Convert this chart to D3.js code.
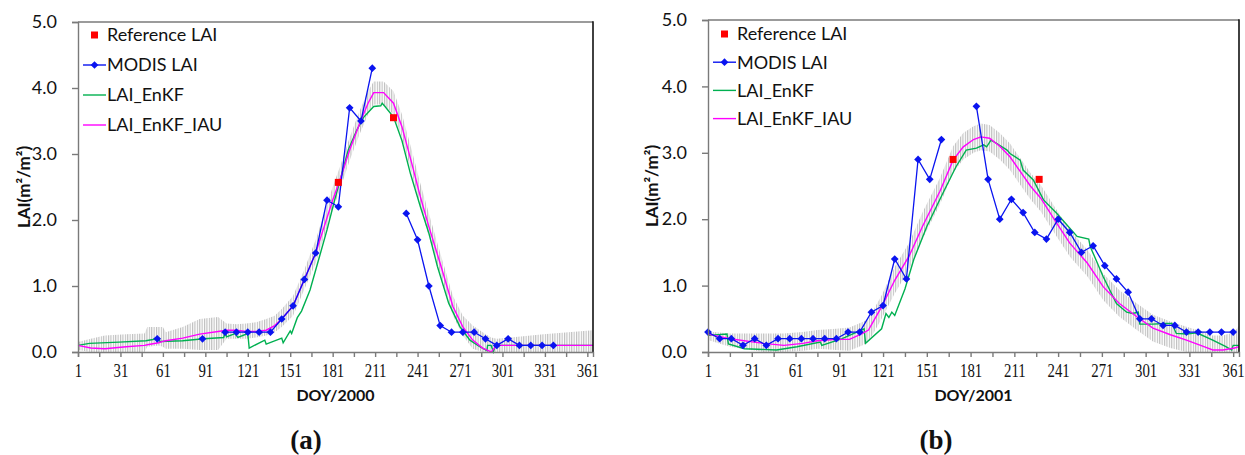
<!DOCTYPE html>
<html><head><meta charset="utf-8">
<script src="https://cdn.jsdelivr.net/npm/d3@7/dist/d3.min.js"></script>
<style>body{margin:0;background:#fff}svg{display:block}</style>
</head><body>
<svg id="chart" width="1245" height="455"></svg>
<script>
// ---------- shared ----------
const tickDays = [1,16,31,46,61,76,91,106,121,136,151,166,181,196,211,226,241,256,271,286,301,316,331,346,361];
const labelDays = [1,31,61,91,121,151,181,211,241,271,301,331,361];
const yTicks = [0,1,2,3,4,5];
const legendLabels = ["Reference LAI","MODIS LAI","LAI_EnKF","LAI_EnKF_IAU"];

// ---------- panel (a) 2000 ----------
const refDaysA = [185,224];
const refLaiA  = [2.57,3.55];
const modisDaysA = [57,65,73,81,89,97,105,113,121,129,137,145,153,161,169,177,185,193,201,209,217,225,233,241,249,257,265,273,281,289,297,305,313,321,329,337];
const modisLaiA  = [0.2,null,null,null,0.2,null,0.3,0.3,0.3,0.3,0.3,0.5,0.7,1.1,1.5,2.3,2.2,3.7,3.5,4.3,null,null,2.1,1.7,1.0,0.4,0.3,0.3,0.3,0.2,0.1,0.2,0.1,0.1,0.1,0.1];
const enkfDaysA = [1,9,30,49,54,57,59,75,90,104,105,106,112,114,121,122,133,134,145,146,151,152,156,159,165,172,177,183,187,192,198,203,210,215,216,218,224,230,236,243,249,255,263,271,278,285,290,290.5,293,294.5,296,365];
const enkfLaiA  = [0.10,0.13,0.15,0.17,0.19,0.22,0.16,0.17,0.20,0.22,0.30,0.23,0.28,0.22,0.28,0.06,0.18,0.12,0.21,0.14,0.32,0.28,0.52,0.62,0.94,1.47,1.85,2.35,2.66,3.06,3.36,3.56,3.72,3.73,3.77,3.72,3.56,3.20,2.70,2.20,1.80,1.30,0.74,0.38,0.18,0.08,0.02,0.10,0.10,0.00,0.10,0.10];
const iauDaysA = [1,10,20,35,48,50,58,61,63,75,87,100,106,113,120,127,134,140,145,153,161,169,175,181,186,193,200,206,210,217,224,230,237,243,249,257,266,273,280,287,293,297,330,365];
const iauLaiA  = [0.10,0.06,0.05,0.08,0.10,0.11,0.14,0.16,0.17,0.21,0.27,0.31,0.33,0.33,0.31,0.31,0.33,0.40,0.50,0.70,1.10,1.50,1.90,2.30,2.60,3.06,3.46,3.77,3.93,3.93,3.77,3.41,2.85,2.35,1.90,1.34,0.69,0.38,0.18,0.06,0.00,0.10,0.10,0.10];
const spreadLowA  = [0.03,0.00,0.00,0.00,0.00,0.08,0.10,0.08,0.05,0.05,0.03,0.03,0.20,0.20,0.20,0.22,0.25,0.30,0.38,0.55,0.95,1.35,1.75,2.15,2.45,2.90,3.30,3.60,3.75,3.75,3.60,3.25,2.70,2.20,1.75,1.20,0.55,0.25,0.05,0.00,0.00,0.00,0.00,0.00];
const spreadHighA = [0.15,0.20,0.25,0.27,0.28,0.38,0.38,0.38,0.30,0.38,0.50,0.53,0.43,0.42,0.43,0.45,0.50,0.55,0.65,0.85,1.25,1.70,2.10,2.50,2.80,3.25,3.65,3.95,4.10,4.10,3.95,3.60,3.05,2.55,2.10,1.50,0.85,0.55,0.40,0.30,0.22,0.20,0.27,0.33];

// ---------- panel (b) 2001 ----------
const refDaysB = [169,228];
const refLaiB  = [2.9,2.6];
const modisDaysB = [1,9,17,25,33,41,49,57,65,73,81,89,97,105,113,121,129,137,145,153,161,169,177,185,193,201,209,217,225,233,241,249,257,265,273,281,289,297,305,313,321,329,337,345,353,361];
const modisLaiB  = [0.3,0.2,0.2,0.1,0.2,0.1,0.2,0.2,0.2,0.2,0.2,0.2,0.3,0.3,0.6,0.7,1.4,1.1,2.9,2.6,3.2,null,null,3.7,2.6,2.0,2.3,2.1,1.8,1.7,2.0,1.8,1.5,1.6,1.3,1.1,0.9,0.5,0.5,0.4,0.4,0.3,0.3,0.3,0.3,0.3];
const enkfDaysB = [1,14,15,26,48,62,78,79,93,108,109,120,123,125,127,129,136,142,151,162,171,178,185,190,192,195,199,206,208,215,217,224,231,240,254,262,263,272,281,288,292,296,297,306,314,319,322,329,336,347,356,360,361,365];
const enkfLaiB  = [0.25,0.27,0.12,0.05,0.03,0.08,0.15,0.10,0.20,0.35,0.13,0.35,0.58,0.52,0.60,0.55,0.95,1.39,1.89,2.39,2.79,3.04,3.07,3.12,3.09,3.19,3.14,3.04,2.99,2.89,2.74,2.59,2.29,2.09,1.74,1.70,1.59,1.13,0.73,0.60,0.58,0.60,0.42,0.42,0.43,0.43,0.28,0.27,0.29,0.18,0.08,0.03,0.10,0.10];
const iauDaysB = [1,16,39,53,66,76,89,98,107,111,120,129,139,148,160,169,176,183,188,194,201,208,215,222,229,240,249,261,272,283,295,306,318,329,341,347,354,362,365];
const iauLaiB  = [0.27,0.20,0.13,0.10,0.13,0.17,0.19,0.19,0.28,0.33,0.68,1.08,1.45,1.89,2.42,2.89,3.09,3.20,3.24,3.22,3.10,2.94,2.72,2.50,2.32,1.94,1.64,1.34,0.98,0.73,0.53,0.36,0.26,0.18,0.08,0.03,0.03,0.06,0.08];
const spreadLowB  = [0.18,0.08,0.00,0.00,0.02,0.05,0.03,0.02,0.10,0.15,0.50,0.88,1.25,1.70,2.22,2.70,2.90,3.00,3.04,3.02,2.90,2.74,2.52,2.30,2.12,1.74,1.44,1.14,0.78,0.53,0.33,0.16,0.06,0.00,0.00,0.00,0.00,0.00,0.00];
const spreadHighB = [0.31,0.28,0.28,0.28,0.30,0.33,0.35,0.37,0.45,0.50,0.85,1.28,1.65,2.10,2.62,3.10,3.30,3.40,3.44,3.42,3.30,3.14,2.92,2.70,2.52,2.14,1.84,1.54,1.18,0.93,0.73,0.56,0.46,0.38,0.30,0.25,0.25,0.30,0.40];

// ---------- drawing ----------
const svg = d3.select("#chart");
const defs = svg.append("defs");
const pat = defs.append("pattern").attr("id","hatch").attr("patternUnits","userSpaceOnUse")
  .attr("width",2.4).attr("height",6);
pat.append("rect").attr("x",0).attr("y",0).attr("width",1.1).attr("height",6).attr("fill","#bdbdbd");

const C = {ref:"#ff0000", modis:"#0a14f0", enkf:"#00b050", iau:"#ff00ff"};
const sansFont = "Lato, 'Liberation Sans', Arial, sans-serif";
const serifFont = "'Liberation Serif', 'DejaVu Serif', serif";

function zip(days, vals){ return days.map((d,i)=>({d, v:vals[i]})); }

function panel(cfg){
  const x = d3.scaleLinear().domain([1,365]).range([cfg.x0,cfg.x1]);
  const y = d3.scaleLinear().domain([0,5]).range([cfg.yb,cfg.yt]);
  const g = svg.append("g");

  // spread
  const spread = cfg.spreadDays.map((d,i)=>({d, lo:cfg.spreadLow[i], hi:cfg.spreadHigh[i]}));
  g.append("path").datum(spread)
    .attr("d", d3.area().x(p=>x(p.d)).y0(p=>y(p.lo)).y1(p=>y(p.hi)))
    .attr("fill","url(#hatch)");

  const line = d3.line().defined(p=>p.v!==null).x(p=>x(p.d)).y(p=>y(p.v));
  g.append("path").datum(zip(cfg.enkfDays,cfg.enkf)).attr("d",line)
    .attr("fill","none").attr("stroke",C.enkf).attr("stroke-width",1.4);
  g.append("path").datum(zip(cfg.iauDays,cfg.iau)).attr("d",line)
    .attr("fill","none").attr("stroke",C.iau).attr("stroke-width",1.4);
  const modis = zip(cfg.modisDays,cfg.modis);
  g.append("path").datum(modis).attr("d",line)
    .attr("fill","none").attr("stroke",C.modis).attr("stroke-width",1.3);
  const diamond = d3.symbol(d3.symbolSquare, 30);
  g.selectAll(".mk").data(modis.filter(p=>p.v!==null)).join("path")
    .attr("d",diamond).attr("fill",C.modis)
    .attr("transform",p=>`translate(${x(p.d)},${y(p.v)}) rotate(45)`);
  g.selectAll(".rf").data(zip(cfg.refDays,cfg.ref)).join("rect")
    .attr("x",p=>x(p.d)-3.5).attr("y",p=>y(p.v)-3.5).attr("width",7).attr("height",7).attr("fill",C.ref);

  // frame
  g.append("line").attr("x1",cfg.x0).attr("x2",cfg.x1).attr("y1",cfg.yt).attr("y2",cfg.yt)
    .attr("stroke","#7a7a7a").attr("stroke-width",1.6);
  g.append("line").attr("x1",cfg.x1).attr("x2",cfg.x1).attr("y1",cfg.yt-0.8).attr("y2",cfg.yb)
    .attr("stroke","#111").attr("stroke-width",1.6);

  // axes
  const ya = g.append("g").attr("transform",`translate(${cfg.x0},0)`)
    .call(d3.axisLeft(y).tickValues(yTicks).tickFormat(d3.format(".1f")).tickSize(6).tickPadding(15));
  ya.selectAll("path,line").attr("stroke","#7a7a7a").attr("stroke-width",1.4);
  ya.selectAll("text").attr("font-family",sansFont).attr("font-size",18).attr("fill","#111");

  const xa = g.append("g").attr("transform",`translate(0,${cfg.yb})`)
    .call(d3.axisBottom(x).tickValues(tickDays).tickSize(5).tickPadding(7)
      .tickFormat(d=>labelDays.includes(d)?String(d):""));
  xa.selectAll("path,line").attr("stroke","#7a7a7a").attr("stroke-width",1.4);
  xa.selectAll("text").attr("font-family",serifFont).attr("font-size",19).attr("fill","#111")
    .attr("transform","scale(0.78,1)");

  // titles
  g.append("text").attr("transform",`translate(${cfg.yTitleX},${(cfg.yt+cfg.yb)/2}) rotate(-90)`)
    .attr("text-anchor","middle").attr("font-family",sansFont).attr("font-weight","bold")
    .attr("font-size",17).attr("fill","#111").text("LAI(m²/m²)");
  g.append("text").attr("x",(cfg.x0+cfg.x1)/2).attr("y",401)
    .attr("text-anchor","middle").attr("font-family",sansFont).attr("font-weight","bold")
    .attr("font-size",16).attr("fill","#111").text(cfg.xTitle);
  g.append("text").attr("x",cfg.tagX).attr("y",449)
    .attr("text-anchor","middle").attr("font-family",serifFont).attr("font-weight","bold")
    .attr("font-size",27).attr("fill","#111").text(cfg.tag);

  // legend
  const lg = g.append("g");
  legendLabels.forEach((lab,i)=>{
    const ly = cfg.legY + i*cfg.legStep;
    if(i===0){
      lg.append("rect").attr("x",cfg.legX+8).attr("y",ly-3.5).attr("width",7).attr("height",7).attr("fill",C.ref);
    } else {
      const col = [null,C.modis,C.enkf,C.iau][i];
      lg.append("line").attr("x1",cfg.legX).attr("x2",cfg.legX+23).attr("y1",ly).attr("y2",ly)
        .attr("stroke",col).attr("stroke-width",1.4);
      if(i===1) lg.append("path").attr("d",diamond)
        .attr("transform",`translate(${cfg.legX+11.5},${ly}) rotate(45)`).attr("fill",C.modis);
    }
    lg.append("text").attr("x",cfg.legX+24).attr("y",ly).attr("dy","0.35em")
      .attr("font-family",sansFont).attr("font-size",18).attr("fill","#111").text(lab);
  });
}

panel({x0:78,x1:593,yb:352,yt:22,yTitleX:30,xTitle:"DOY/2000",tag:"(a)",tagX:306,
  legX:83,legY:35,legStep:30,
  refDays:refDaysA,ref:refLaiA,modisDays:modisDaysA,modis:modisLaiA,
  enkfDays:enkfDaysA,enkf:enkfLaiA,iauDays:iauDaysA,iau:iauLaiA,
  spreadDays:iauDaysA,spreadLow:spreadLowA,spreadHigh:spreadHighA});
panel({x0:708,x1:1239,yb:352,yt:20,yTitleX:658,xTitle:"DOY/2001",tag:"(b)",tagX:936,
  legX:713,legY:34,legStep:28.2,
  refDays:refDaysB,ref:refLaiB,modisDays:modisDaysB,modis:modisLaiB,
  enkfDays:enkfDaysB,enkf:enkfLaiB,iauDays:iauDaysB,iau:iauLaiB,
  spreadDays:iauDaysB,spreadLow:spreadLowB,spreadHigh:spreadHighB});
</script>
</body></html>
